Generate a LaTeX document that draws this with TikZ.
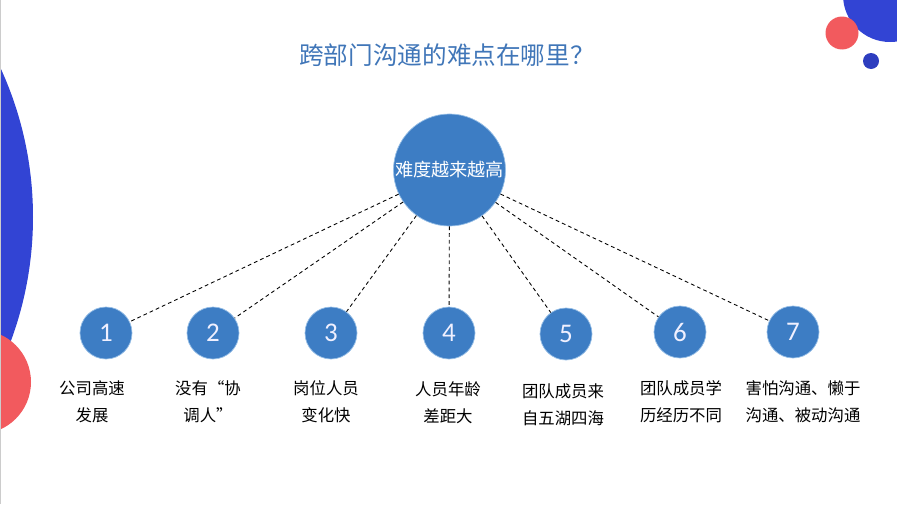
\documentclass[tikz,border=0pt]{standalone}
\usepackage{fontspec}
\usepackage{xcolor}
\setmainfont{Noto Sans CJK SC}
\newfontfamily\numfont{Carlito}
\usetikzlibrary{positioning}

\definecolor{ballblue}{RGB}{61,125,196}
\definecolor{ballrim}{RGB}{150,190,230}
\definecolor{titleblue}{RGB}{64,118,184}
\definecolor{decoblue}{RGB}{50,68,212}
\definecolor{decored}{RGB}{242,90,94}

\begin{document}
\begin{tikzpicture}[
  x=0.03cm, y=-0.03cm,
  hub/.style={circle, fill=ballblue, draw=ballrim, line width=0.6pt, minimum size=3.36cm, inner sep=0pt, text=white, font=\fontsize{15.5}{18}\selectfont},
  ball/.style={circle, fill=ballblue, draw=ballrim, line width=0.6pt, minimum size=1.56cm, inner sep=0pt, text=blue!6!white, font=\numfont\fontsize{23}{26}\selectfont},
  caption/.style={align=center, inner sep=0pt, font=\fontsize{14}{23}\selectfont},
  link/.style={dash pattern=on 3.2pt off 2.6pt, line width=0.75pt}
]
  \useasboundingbox (0,0) rectangle (897,504);

  % corner decoration
  \begin{scope}
    \clip (0,0) rectangle (897,504);
    \fill[decoblue] (-324,217) circle (357);
    \fill[decored] (-21,382) circle (52);
    \fill[decoblue] (890,-5) circle (47);
    \fill[decored] (842,33) circle (16.5);
    \fill[decoblue!90!black] (871,61) circle (8);
  \end{scope}
  \draw[black!20] (0.5,0) -- (0.5,504);

  \node[font=\fontsize{21}{24}\selectfont, text=titleblue] (title) at (447,55) {跨部门沟通的难点在哪里？};

  \node[hub] (hub) at (449.5,170) {难度越来越高};

  \node[ball] (n1) at (106,333) {1};
  \node[ball] (n2) at (213,333) {2};
  \node[ball] (n3) at (331,333) {3};
  \node[ball] (n4) at (449,333) {4};
  \node[ball] (n5) at (566,334) {5};
  \node[ball] (n6) at (680,332) {6};
  \node[ball] (n7) at (793,332) {7};

  \node[caption] (lab1) at (92,402) {公司高速\\发展};
  \node[caption] (lab2) at (208,402) {没有“协\\调人”};
  \node[caption] (lab3) at (326,402) {岗位人员\\变化快};
  \node[caption] (lab4) at (448,403) {人员年龄\\差距大};
  \node[caption] (lab5) at (563,405) {团队成员来\\自五湖四海};
  \node[caption] (lab6) at (681,402) {团队成员学\\历经历不同};
  \node[caption] (lab7) at (803,402) {害怕沟通、懒于\\沟通、被动沟通};

  \draw[link] (hub) -- (n1);
  \draw[link] (hub) -- (n2);
  \draw[link] (hub) -- (n3);
  \draw[link] (hub) -- (n4);
  \draw[link] (hub) -- (n5);
  \draw[link] (hub) -- (n6);
  \draw[link] (hub) -- (n7);
\end{tikzpicture}
\end{document}
